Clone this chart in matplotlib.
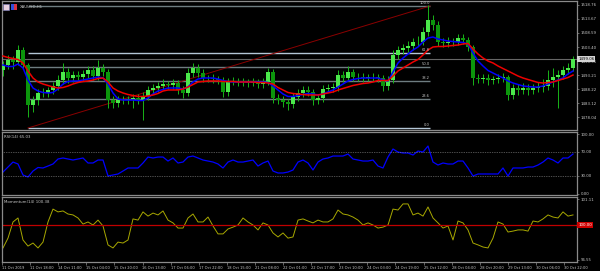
import numpy as np
import matplotlib
matplotlib.use("Agg")
import matplotlib.pyplot as plt
from matplotlib.patches import Rectangle

# ---------------- data ----------------
symbol_title = "XAUUSD,H1"
first_open = 1495.0
close = [
    1496.93, 1498.74, 1498.02, 1502.37, 1496.93, 1482.43, 1484.24, 1486.78, 1486.78, 1487.87,
    1489.32, 1491.49, 1494.39, 1492.22, 1493.30, 1492.58, 1493.67, 1495.12, 1492.94, 1495.84,
    1494.39, 1484.24, 1483.15, 1484.24, 1484.24, 1484.60, 1484.97, 1484.24, 1485.69, 1487.87,
    1488.59, 1489.32, 1490.04, 1489.68, 1490.40, 1487.87, 1486.78, 1494.03, 1495.84, 1494.03,
    1492.22, 1492.22, 1491.85, 1491.49, 1487.14, 1490.77, 1491.13, 1490.77, 1490.77, 1490.40,
    1490.77, 1490.04, 1490.77, 1494.39, 1484.97, 1484.24, 1483.51, 1482.79, 1485.33, 1486.78,
    1487.87, 1487.14, 1484.24, 1484.97, 1488.23, 1488.59, 1488.95, 1493.30, 1492.22, 1494.39,
    1492.58, 1492.58, 1492.22, 1492.58, 1492.58, 1492.22, 1489.32, 1491.49, 1500.56, 1502.37,
    1503.10, 1503.82, 1505.27, 1505.27, 1508.90, 1513.25, 1511.43, 1505.27, 1504.91, 1505.27,
    1505.27, 1506.72, 1506.00, 1503.46, 1492.22, 1491.85, 1492.22, 1491.49, 1491.85, 1492.22,
    1492.58, 1486.05, 1488.59, 1487.87, 1488.59, 1487.87, 1488.59, 1488.95, 1489.32, 1491.49,
    1492.58, 1493.30, 1495.12, 1495.84, 1499.06,
]
wick_up = [
    1.6, 1.9, 1.4, 1.8, 1.2, 0.9, 1.6, 1.4, 1.7, 1.2,
    1.4, 1.8, 3.3, 1.6, 1.4, 1.5, 1.3, 1.6, 1.4, 2.9,
    1.4, 1.2, 1.4, 1.3, 1.6, 1.2, 1.4, 1.3, 1.5, 1.6,
    1.4, 1.3, 1.8, 1.2, 1.4, 1.1, 1.3, 1.9, 1.8, 1.4,
    1.6, 1.2, 1.4, 1.1, 1.2, 1.4, 1.3, 1.2, 1.4, 1.1,
    1.3, 1.2, 1.4, 1.5, 1.2, 1.3, 1.4, 1.2, 1.4, 1.6,
    1.3, 1.4, 1.2, 1.5, 1.4, 1.3, 1.6, 1.9, 1.4, 2.2,
    1.2, 1.3, 1.4, 1.2, 1.3, 1.2, 1.1, 1.6, 1.9, 1.6,
    1.4, 1.8, 1.6, 2.2, 1.9, 5.4, 1.9, 1.6, 1.4, 1.7,
    1.3, 1.5, 1.4, 1.2, 0.9, 1.4, 1.3, 1.4, 1.2, 1.4,
    1.3, 0.9, 1.6, 1.4, 1.8, 1.4, 1.6, 1.9, 2.4, 3.6,
    3.3, 1.9, 1.6, 1.9, 1.0,
]
wick_dn = [
    1.9, 1.6, 2.4, 1.2, 1.4, 4.3, 2.5, 1.9, 1.6, 1.4,
    1.4, 1.3, 1.4, 1.7, 1.4, 1.6, 1.4, 1.3, 1.5, 1.4,
    1.6, 2.9, 1.9, 1.4, 1.6, 1.4, 3.3, 1.4, 7.2, 1.4,
    1.3, 1.4, 1.2, 1.4, 1.3, 1.6, 1.9, 1.2, 1.4, 1.4,
    1.3, 1.4, 1.6, 1.4, 1.8, 1.4, 1.2, 1.4, 1.3, 1.4,
    1.2, 1.4, 1.3, 1.2, 1.9, 1.6, 1.8, 2.2, 1.4, 1.3,
    1.4, 1.6, 1.8, 1.4, 1.4, 1.2, 1.4, 1.3, 1.4, 1.2,
    1.4, 1.3, 1.4, 1.2, 1.3, 1.4, 1.7, 1.4, 1.2, 1.4,
    1.6, 1.4, 1.3, 1.4, 1.2, 1.3, 1.9, 1.6, 1.4, 1.3,
    1.4, 1.2, 1.4, 1.6, 2.5, 1.6, 1.4, 1.7, 1.4, 1.3,
    1.4, 1.8, 1.6, 1.9, 1.4, 1.8, 1.6, 1.4, 1.9, 1.6,
    2.5, 11.3, 1.4, 1.6, 1.2,
]
ma_fast = [
    1496.93, 1496.39, 1496.39, 1497.29, 1495.84, 1491.49, 1488.59, 1487.50, 1486.96, 1486.78,
    1486.96, 1488.23, 1490.04, 1490.95, 1491.13, 1491.13, 1491.49, 1491.85, 1492.22, 1492.58,
    1492.22, 1490.04, 1486.78, 1484.60, 1484.24, 1484.24, 1484.24, 1484.06, 1484.06, 1484.97,
    1486.42, 1487.50, 1488.05, 1488.59, 1488.59, 1488.59, 1488.23, 1488.95, 1490.77, 1491.85,
    1492.22, 1492.22, 1492.22, 1491.85, 1491.31, 1490.95, 1490.77, 1490.77, 1490.77, 1490.77,
    1490.77, 1490.77, 1490.77, 1490.59, 1489.32, 1487.87, 1486.42, 1485.51, 1485.51, 1485.87,
    1486.23, 1486.60, 1486.42, 1486.05, 1486.42, 1487.14, 1487.87, 1488.95, 1490.04, 1491.13,
    1491.67, 1492.04, 1492.22, 1492.22, 1492.22, 1492.22, 1491.49, 1491.13, 1494.39, 1497.66,
    1499.47, 1500.92, 1502.37, 1503.46, 1505.27, 1506.72, 1507.08, 1506.36, 1506.00, 1505.63,
    1505.45, 1505.27, 1505.09, 1504.55, 1501.28, 1498.38, 1496.57, 1494.94, 1494.03, 1493.12,
    1492.22, 1491.13, 1490.40, 1489.86, 1489.32, 1489.14, 1488.95, 1488.95, 1489.32, 1490.04,
    1490.77, 1491.49, 1492.22, 1493.67, 1494.76,
]
ma_slow = [
    1500.19, 1499.65, 1499.29, 1498.93, 1497.66, 1494.76, 1492.22, 1490.77, 1490.04, 1489.50,
    1488.95, 1488.59, 1488.77, 1489.32, 1490.04, 1490.59, 1490.95, 1491.13, 1491.49, 1492.04,
    1492.22, 1490.77, 1488.59, 1487.50, 1486.78, 1486.23, 1485.87, 1485.51, 1485.51, 1485.69,
    1486.05, 1486.60, 1487.50, 1487.87, 1487.87, 1487.87, 1488.23, 1488.95, 1489.86, 1490.77,
    1490.95, 1491.13, 1491.13, 1491.13, 1490.95, 1490.95, 1490.95, 1490.77, 1490.77, 1490.77,
    1490.77, 1490.59, 1490.59, 1490.40, 1490.04, 1488.77, 1487.87, 1486.96, 1486.60, 1486.42,
    1486.23, 1486.05, 1486.05, 1486.05, 1486.42, 1486.78, 1487.14, 1487.87, 1488.41, 1488.95,
    1489.50, 1489.86, 1490.22, 1490.40, 1490.77, 1491.31, 1491.31, 1491.31, 1492.94, 1494.76,
    1495.84, 1496.93, 1498.02, 1498.93, 1500.56, 1502.37, 1503.46, 1503.64, 1503.64, 1503.82,
    1504.00, 1504.18, 1504.55, 1504.73, 1502.73, 1500.92, 1499.47, 1498.38, 1497.66, 1496.57,
    1495.66, 1494.76, 1493.85, 1492.94, 1492.22, 1491.67, 1491.13, 1490.59, 1490.40, 1490.59,
    1490.77, 1491.31, 1491.85, 1492.40, 1493.30,
]
rsi = [
    36.1, 44.5, 52.9, 49.6, 31.1, 27.7, 37.8, 43.7, 42.9, 46.2,
    49.6, 58.0, 59.7, 58.0, 56.3, 58.0, 59.7, 51.3, 51.3, 56.3,
    56.3, 29.4, 31.1, 32.8, 37.8, 42.9, 42.9, 42.9, 51.3, 61.3,
    59.7, 61.3, 61.3, 54.6, 59.7, 51.3, 52.9, 61.3, 63.0, 59.7,
    56.3, 54.6, 52.9, 49.6, 42.9, 52.9, 56.3, 52.9, 52.9, 54.6,
    56.3, 46.2, 51.3, 54.6, 37.8, 34.5, 34.5, 36.1, 39.5, 52.9,
    56.3, 51.3, 39.5, 52.9, 58.0, 59.7, 63.0, 63.0, 63.0, 66.4,
    58.0, 56.3, 54.6, 54.6, 56.3, 46.2, 42.9, 61.3, 74.8, 69.7,
    68.1, 68.1, 64.7, 71.4, 69.7, 79.8, 52.9, 47.9, 51.3, 49.6,
    49.6, 54.6, 54.6, 42.9, 29.4, 32.8, 32.8, 32.8, 32.8, 32.8,
    42.9, 29.4, 42.9, 42.9, 42.9, 44.5, 44.5, 47.9, 52.9, 59.7,
    56.3, 51.3, 59.7, 59.7, 66.4,
]
momentum = [
    99.02, 99.44, 100.13, 100.30, 99.36, 99.10, 99.23, 99.02, 99.27, 100.13,
    100.68, 100.56, 100.60, 100.47, 100.43, 100.30, 100.04, 100.13, 100.00, 100.21,
    99.96, 99.15, 99.02, 99.27, 99.23, 99.36, 100.26, 100.21, 100.56, 100.38,
    100.51, 100.43, 100.60, 100.21, 100.09, 99.87, 99.87, 100.30, 100.47, 100.13,
    100.13, 100.34, 99.96, 99.62, 99.62, 99.83, 99.91, 100.00, 100.30, 100.13,
    100.00, 99.79, 100.09, 100.00, 99.66, 99.49, 99.66, 99.44, 99.49, 100.21,
    100.26, 100.17, 100.09, 100.21, 100.13, 100.13, 100.26, 100.64, 100.47, 100.43,
    100.34, 100.21, 100.00, 100.09, 100.00, 99.87, 99.91, 100.00, 100.68, 100.64,
    100.90, 100.90, 100.43, 100.51, 100.38, 100.77, 100.30, 100.09, 99.87, 99.96,
    99.36, 100.17, 100.09, 99.79, 99.23, 99.15, 99.06, 99.02, 99.44, 100.13,
    100.04, 99.70, 99.74, 99.79, 99.79, 99.74, 100.17, 100.13, 100.26, 100.43,
    100.34, 100.30, 100.56, 100.38, 100.43,
]
price_ticks = [1518.76, 1513.67, 1508.59, 1503.40, 1498.31, 1493.21, 1488.22, 1483.12, 1478.04]
last_price = 1499.06
fib_low, fib_high = 1474.09, 1518.32
fib_levels = [0.0, 23.6, 38.2, 50.0, 61.8, 100.0]
fib_start_bar, fib_end_bar = 5, 85.4
rsi_ticks = [100, 70, 30, 0]
rsi_levels = [70, 30]
rsi_label = "RSI(14) 65.03"
mom_level = 100.0
mom_ticks = [101.11, 98.51]
mom_tick_labels = ["101.11", "96.55"]
mom_label = "Momentum(14) 100.38"
time_labels = ["11 Oct 2019", "11 Oct 18:00", "14 Oct 11:00", "15 Oct 04:00", "15 Oct 20:00",
               "16 Oct 13:00", "17 Oct 06:00", "17 Oct 22:00", "18 Oct 15:00", "21 Oct 08:00",
               "22 Oct 01:00", "22 Oct 17:00", "23 Oct 10:00", "24 Oct 03:00", "24 Oct 19:00",
               "25 Oct 12:00", "28 Oct 04:00", "28 Oct 20:00", "29 Oct 13:00", "30 Oct 06:00",
               "30 Oct 22:00"]
time_label_step = 5.62   # bars between time labels

# ---------------- style ----------------
BG = "black"
TXT = "#c8c8c8"
FRAME = "#8a8a8a"
FS = 2.8
W, H = 600, 271

def rect(x0, y0, x1, y1):
    return [x0 / W, 1 - y1 / H, (x1 - x0) / W, (y1 - y0) / H]

fig = plt.figure(figsize=(6.0, 2.71), dpi=100, facecolor=BG)
ax = fig.add_axes(rect(2, 1, 577, 130))
ax_rsi = fig.add_axes(rect(2, 132, 577, 195))
ax_mom = fig.add_axes(rect(2, 197, 577, 262))

n = len(close)
x = np.arange(n)
xlim = (-0.2, 114.8)

for a in (ax, ax_rsi, ax_mom):
    a.set_facecolor(BG)
    a.set_xlim(*xlim)
    for s in a.spines.values():
        s.set_color(FRAME)
        s.set_linewidth(0.9)
    a.yaxis.tick_right()
    a.tick_params(axis="y", labelsize=FS, colors=FRAME, labelcolor=TXT,
                  length=1.5, width=0.5, pad=1)
    a.tick_params(axis="x", bottom=False, labelbottom=False)

# ---- main price panel ----
ax.set_ylim(1473.36, 1520.14)
c = np.array(close)
o = np.concatenate([[first_open], c[:-1]])
hi = np.maximum(o, c) + np.array(wick_up)
lo = np.minimum(o, c) - np.array(wick_dn)
ax.vlines(x, lo, hi, color="#18b418", lw=0.7, zorder=3)
up = c >= o
body_h = np.maximum(np.abs(c - o), 0.15)
body_b = np.minimum(o, c)
ax.bar(x[up], body_h[up], bottom=body_b[up], width=0.75, color="#4be84b", lw=0, zorder=4)
ax.bar(x[~up], body_h[~up], bottom=body_b[~up], width=0.75, color="#0c960c", lw=0, zorder=4)

ax.plot(x, ma_fast, color="#0000ff", lw=1.1, zorder=5)
ax.plot(x, ma_slow, color="#ee0000", lw=1.1, zorder=5)

fib_colors = {0.0: "#b4c6d6", 61.8: "#b4c6d6"}
for lvl in fib_levels:
    p = fib_low + (fib_high - fib_low) * lvl / 100.0
    ax.hlines(p, fib_start_bar, fib_end_bar, color=fib_colors.get(lvl, "#6e7c80"),
              lw=1.0, zorder=2)
    ax.text(fib_end_bar, p + 0.4, f"{lvl:.1f}", ha="right", va="bottom",
            fontsize=2.6, color=TXT, zorder=6)
ax.plot([fib_start_bar, fib_end_bar], [fib_low, fib_high], color="#8b0000", lw=0.7, zorder=2)

ax.axhline(last_price, color="#666666", lw=0.8, zorder=1)
ax.set_yticks(price_ticks)
ax.set_yticklabels([f"{v:.2f}" for v in price_ticks])
ax.text(1.002, last_price, f"{last_price:.2f}", transform=ax.get_yaxis_transform(),
        ha="left", va="center", fontsize=FS, color="black", zorder=10, clip_on=False,
        bbox=dict(boxstyle="square,pad=0.25", fc="#d4d4d4", ec="none"))

# title + icons
fig.add_artist(Rectangle((3 / W, 1 - 10 / H), 6 / W, 6 / H, transform=fig.transFigure,
                         fc="#e8d0e0", ec="#8080c0", lw=0.4))
fig.add_artist(Rectangle((11 / W, 1 - 10 / H), 3 / W, 6 / H, transform=fig.transFigure,
                         fc="#3050d8", ec="none"))
fig.add_artist(Rectangle((14 / W, 1 - 10 / H), 3 / W, 6 / H, transform=fig.transFigure,
                         fc="#d83040", ec="none"))
fig.text(20 / W, 1 - 7 / H, symbol_title, fontsize=FS, color=TXT, va="center", ha="left")

# ---- RSI panel ----
ax_rsi.set_ylim(-2.52, 103.4)
ax_rsi.plot(x, rsi, color="#0000ff", lw=0.9)
for lv in rsi_levels:
    ax_rsi.axhline(lv, color="#9a9a9a", lw=0.5, ls=(0, (1, 1.5)))
ax_rsi.set_yticks(rsi_ticks)
ax_rsi.set_yticklabels([f"{v:.2f}" for v in rsi_ticks])
ax_rsi.text(0.004, 0.96, rsi_label, transform=ax_rsi.transAxes, ha="left", va="top",
            fontsize=FS, color=TXT)

# ---- Momentum panel ----
ax_mom.set_ylim(98.42, 101.196)
ax_mom.plot(x, momentum, color="#a8a800", lw=0.7)
ax_mom.axhline(mom_level, color="#c00000", lw=0.9)
ax_mom.set_yticks(mom_ticks)
ax_mom.set_yticklabels(mom_tick_labels)
ax_mom.text(1.002, mom_level, f"{mom_level:.2f}", transform=ax_mom.get_yaxis_transform(),
            ha="left", va="center", fontsize=FS, color="white", zorder=10, clip_on=False,
            bbox=dict(boxstyle="square,pad=0.25", fc="#cc0000", ec="none"))
ax_mom.text(0.004, 0.96, mom_label, transform=ax_mom.transAxes, ha="left", va="top",
            fontsize=FS, color=TXT)

tpos = [-0.2 + k * time_label_step for k in range(len(time_labels))]
ax_mom.tick_params(axis="x", bottom=True, labelbottom=True, length=2, width=0.5,
                   colors=FRAME, labelcolor=TXT, labelsize=2.6, pad=0.8)
ax_mom.set_xticks(tpos, labels=time_labels, ha="left")

fig.savefig("out.png", dpi=100, facecolor=BG)
